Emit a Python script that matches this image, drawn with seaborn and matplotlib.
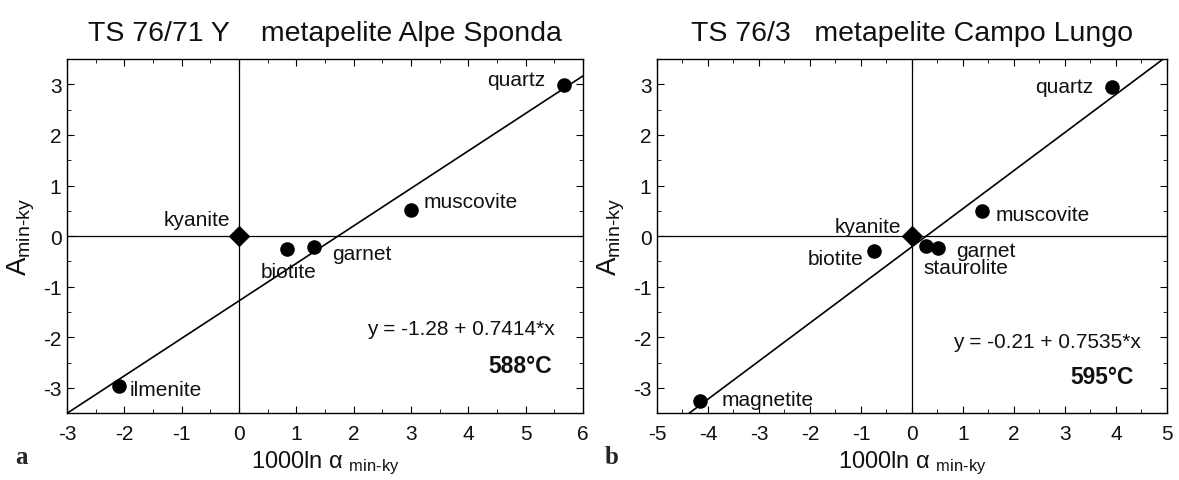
import matplotlib
matplotlib.use("Agg")
import matplotlib.pyplot as plt
import seaborn as sns
import pandas as pd
import numpy as np
from matplotlib.ticker import MultipleLocator

# ---------------- data ----------------
# Panel a: TS 76/71 Y metapelite Alpe Sponda
a_minerals = ["ilmenite", "biotite", "garnet", "muscovite", "quartz"]
a_x = [-2.10, 0.84, 1.30, 3.00, 5.67]
a_y = [-2.96, -0.26, -0.22, 0.51, 2.98]
a_intercept = -1.28
a_slope = 0.7414
a_temp = "588°C"
a_title = "TS 76/71 Y    metapelite Alpe Sponda"

# Panel b: TS 76/3 metapelite Campo Lungo
b_minerals = ["magnetite", "biotite", "staurolite", "garnet", "muscovite", "quartz"]
b_x = [-4.16, -0.75, 0.27, 0.52, 1.37, 3.93]
b_y = [-3.26, -0.30, -0.20, -0.24, 0.50, 2.95]
b_intercept = -0.21
b_slope = 0.7535
b_temp = "595°C"
b_title = "TS 76/3   metapelite Campo Lungo"

ref_mineral = "kyanite"
ref_x = [0.0]
ref_y = [0.0]

# ---------------- style ----------------
sns.set_theme(style="white")
plt.rcParams["font.family"] = ["Liberation Sans", "DejaVu Sans"]
plt.rcParams["mathtext.fontset"] = "custom"
plt.rcParams["mathtext.rm"] = "Liberation Sans"
plt.rcParams["mathtext.it"] = "Liberation Sans:italic"
plt.rcParams["mathtext.bf"] = "Liberation Sans:bold"
plt.rcParams["axes.unicode_minus"] = False

fig = plt.figure(figsize=(11.79, 4.81), dpi=100)
axA = fig.add_axes([0.0568, 0.139, 0.4377, 0.736])
axB = fig.add_axes([0.5572, 0.139, 0.4326, 0.736])

FS = 15
TXT = "#111111"


def draw_panel(ax, minerals, xs, ys, intercept, slope, xlim, title, eq_pos, temp, temp_pos, labels):
    ax.set_xlim(*xlim)
    ax.set_ylim(-3.5, 3.5)
    ax.axhline(0, color="black", lw=0.9, zorder=1)
    ax.axvline(0, color="black", lw=0.9, zorder=1)
    lx = np.array(xlim, dtype=float)
    line_df = pd.DataFrame({"x": lx, "y": intercept + slope * lx})
    sns.lineplot(data=line_df, x="x", y="y", ax=ax, color="black", lw=1.2, zorder=2)
    df = pd.DataFrame({"mineral": minerals, "x": xs, "y": ys})
    sns.scatterplot(data=df, x="x", y="y", ax=ax, color="black", s=110,
                    edgecolor="black", linewidth=0, zorder=3, legend=False)
    ref = pd.DataFrame({"mineral": [ref_mineral], "x": ref_x, "y": ref_y})
    sns.scatterplot(data=ref, x="x", y="y", ax=ax, color="black", marker="D", s=120,
                    edgecolor="black", linewidth=0, zorder=4, legend=False)
    for name, (tx, ty, ha) in labels.items():
        ax.text(tx, ty, name, ha=ha, va="center", fontsize=FS, color=TXT)
    ax.text(eq_pos[0], eq_pos[1],
            f"y = {intercept:.2f} + {slope:.4f}*x", ha="right", va="center",
            fontsize=FS, color=TXT)
    ax.text(temp_pos[0], temp_pos[1], temp, ha="right", va="center",
            fontsize=16.5, fontweight="bold", color=TXT)
    ax.set_title(title, fontsize=20.5, pad=14, color=TXT)
    ax.set_xlabel(r"1000ln α $_{\rm min\text{-}ky}$", fontsize=17, labelpad=4, color=TXT)
    ax.set_ylabel(r"A$_{\rm min\text{-}ky}$", fontsize=20, labelpad=4, color=TXT)
    ax.xaxis.set_major_locator(MultipleLocator(1))
    ax.xaxis.set_minor_locator(MultipleLocator(0.5))
    ax.yaxis.set_major_locator(MultipleLocator(1))
    ax.yaxis.set_minor_locator(MultipleLocator(0.5))
    ax.tick_params(which="both", direction="in", top=True, right=True,
                   bottom=True, left=True, color="black")
    ax.tick_params(which="major", length=5, width=0.8, labelsize=FS,
                   labelcolor=TXT)
    ax.tick_params(axis="x", which="major", pad=8)
    ax.tick_params(axis="y", which="major", pad=4)
    ax.tick_params(which="minor", length=3, width=0.6)
    for sp in ax.spines.values():
        sp.set_color("black")
        sp.set_linewidth(1.0)
    ax.grid(False)


draw_panel(axA, a_minerals, a_x, a_y, a_intercept, a_slope, (-3, 6), a_title,
           (5.5, -1.82), a_temp, (5.46, -2.55),
           {"kyanite": (-0.16, 0.33, "right"),
            "biotite": (0.86, -0.70, "center"),
            "garnet": (1.62, -0.35, "left"),
            "muscovite": (3.22, 0.68, "left"),
            "quartz": (5.34, 3.10, "right"),
            "ilmenite": (-1.90, -3.04, "left")})

draw_panel(axB, b_minerals, b_x, b_y, b_intercept, b_slope, (-5, 5), b_title,
           (4.49, -2.09), b_temp, (4.35, -2.78),
           {"kyanite": (-0.22, 0.20, "right"),
            "biotite": (-0.95, -0.44, "right"),
            "garnet": (0.87, -0.28, "left"),
            "staurolite": (0.22, -0.63, "left"),
            "muscovite": (1.63, 0.42, "left"),
            "quartz": (3.56, 2.96, "right"),
            "magnetite": (-3.74, -3.23, "left")})

fig.text(0.013, 0.035, "a", fontsize=18, fontweight="bold", family="Liberation Serif")
fig.text(0.513, 0.035, "b", fontsize=18, fontweight="bold", family="Liberation Serif")

fig.savefig("out.png", dpi=100)
